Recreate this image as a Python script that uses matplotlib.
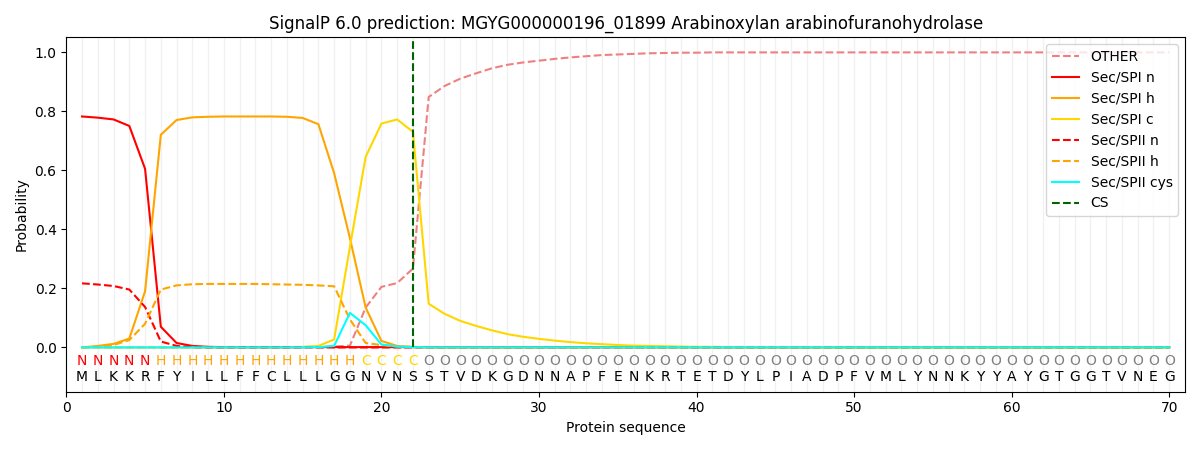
import matplotlib
matplotlib.use("Agg")
import matplotlib.pyplot as plt
import numpy as np

sequence = list("MLKKRFYILLFFCLLLGGNVNSSTVDKGDNNAPFENKRTETDYLPIADPFVMLYNNKYYAYGTGGTVNEG")
region_labels = list("N" * 5 + "H" * 13 + "C" * 4 + "O" * 48)
cs_position = 22

other = [0.0, 0.0, 0.0, 0.0, 0.0, 0.0, 0.0, 0.0, 0.0, 0.0,
         0.0, 0.0, 0.0, 0.0, 0.001, 0.002, 0.003, 0.006, 0.135, 0.205,
         0.218, 0.267, 0.848, 0.885, 0.91, 0.928, 0.945, 0.957, 0.965, 0.971,
         0.977, 0.982, 0.986, 0.99, 0.992, 0.994, 0.996, 0.997, 0.998, 0.998,
         0.999, 0.999, 0.999, 0.999, 0.999, 0.999, 0.999, 0.999, 0.999, 0.999,
         0.999, 0.999, 0.999, 0.999, 0.999, 0.999, 0.999, 0.999, 0.999, 0.999,
         0.999, 0.999, 0.999, 0.999, 0.999, 0.999, 0.999, 0.999, 0.999, 0.999]
spi_n = [0.782, 0.778, 0.772, 0.75, 0.605, 0.07, 0.015, 0.005, 0.002, 0.001] + [0.001] * 60
spi_h = [0.0, 0.005, 0.012, 0.03, 0.19, 0.72, 0.77, 0.779, 0.781, 0.782,
         0.782, 0.782, 0.782, 0.781, 0.777, 0.756, 0.59, 0.37, 0.135, 0.022,
         0.005, 0.002] + [0.0] * 48
spi_c = [0.0] * 14 + [0.002, 0.005, 0.027, 0.34, 0.645, 0.758,
         0.772, 0.73, 0.148, 0.114, 0.09, 0.073, 0.058, 0.045, 0.036, 0.029,
         0.023, 0.018, 0.014, 0.011, 0.008, 0.006, 0.005, 0.004, 0.003, 0.002,
         0.002, 0.001, 0.001, 0.001, 0.001, 0.001, 0.001, 0.001] + [0.0] * 22
spii_n = [0.217, 0.213, 0.208, 0.196, 0.137, 0.02, 0.005, 0.001] + [0.0] * 62
spii_h = [0.0, 0.003, 0.008, 0.025, 0.08, 0.196, 0.21, 0.214, 0.215, 0.215,
          0.215, 0.215, 0.214, 0.213, 0.212, 0.21, 0.207, 0.095, 0.015, 0.008,
          0.003, 0.001] + [0.0] * 48
spii_cys = [0.0] * 15 + [0.001, 0.005, 0.117, 0.075, 0.01, 0.003, 0.001] + [0.0] * 48

positions = np.arange(1, len(sequence) + 1)

fig, ax = plt.subplots(figsize=(12, 4.5), dpi=100)

for p in positions:
    ax.axvline(p, color="#e8e8e8", linewidth=1, alpha=0.6, zorder=0)

ax.plot(positions, other, color="lightcoral", linestyle="--", label="OTHER")
ax.plot(positions, spi_n, color="red", label="Sec/SPI n")
ax.plot(positions, spi_h, color="orange", label="Sec/SPI h")
ax.plot(positions, spi_c, color="gold", label="Sec/SPI c")
ax.plot(positions, spii_n, color="red", linestyle="--", label="Sec/SPII n")
ax.plot(positions, spii_h, color="orange", linestyle="--", label="Sec/SPII h")
ax.plot(positions, spii_cys, color="cyan", label="Sec/SPII cys")
ax.vlines(cs_position, 0, 1.05, color="darkgreen", linestyle="--", label="CS")

label_colors = {"N": "red", "H": "orange", "C": "gold", "O": "gray"}
for p, lab, aa in zip(positions, region_labels, sequence):
    ax.text(p, -0.045, lab, color=label_colors[lab], ha="center", va="center", fontsize=10)
    ax.text(p, -0.1, aa, color="black", ha="center", va="center", fontsize=10)

ax.set_xlim(0, 71)
ax.set_ylim(-0.15, 1.05)
ax.set_xlabel("Protein sequence")
ax.set_ylabel("Probability")
ax.set_title("SignalP 6.0 prediction: MGYG000000196_01899 Arabinoxylan arabinofuranohydrolase")
ax.legend(loc="upper right")
fig.tight_layout()
fig.savefig("out.png")
